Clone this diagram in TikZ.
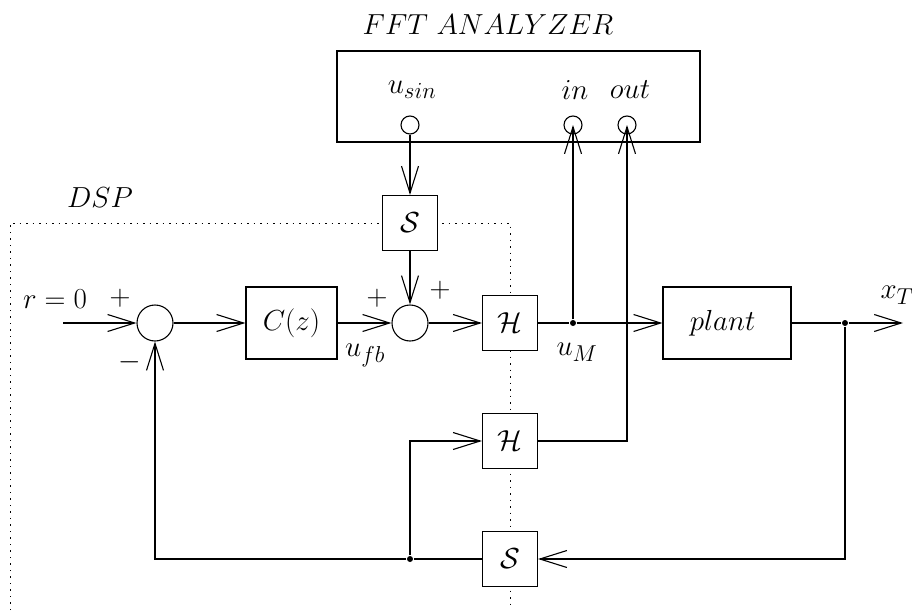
\RequirePackage{fix-cm}
\documentclass[tikz,border=0pt]{standalone}
\usetikzlibrary{arrows.meta}
\DeclareMathSizes{29}{29}{23}{18}
\begin{document}
\begin{tikzpicture}[x=1pt,y=-1pt,line width=1.1pt,
  font=\fontsize{29}{35}\selectfont,
  >={Straight Barb[length=27pt,width=17pt,line width=1.1pt]},
  box/.style={draw,fill=white,inner sep=0pt,minimum width=55pt,minimum height=55pt},
  bigbox/.style={draw,fill=white,inner sep=0pt,minimum height=72pt},
  sumc/.style={draw,circle,inner sep=0pt,minimum size=36pt},
  port/.style={draw,circle,inner sep=0pt,minimum size=18pt},
  lbl/.style={inner sep=0pt},
  dotn/.style={fill,circle,inner sep=0pt,minimum size=6pt},
  dsp/.style={line width=1pt,dash pattern=on 1.5pt off 5pt}]
\useasboundingbox (0,0) rectangle (912,610);
% DSP border
\coordinate (d1) at (10,610);
\coordinate (d2) at (10,223);
\coordinate (d3) at (510,223);
\coordinate (d4) at (510,610);
\draw[dsp] (d1) -- (d2) -- (d3) -- (d4);
\node[lbl] (dsplbl) at (100,198) {$DSP$};
% FFT analyzer
\node[draw,inner sep=0pt,minimum width=363pt,minimum height=91pt] (fft) at (518.5,96.5) {};
\node[lbl] (ffttitle) at (488,25) {$FFT\ ANALYZER$};
\node[port] (usin) at (410,125) {};
\node[port] (inp) at (573,125) {};
\node[port] (outp) at (627,125) {};
\node[lbl] (usinlbl) at (412,90) {$u_{sin}$};
\node[lbl] (inlbl) at (575,90) {$in$};
\node[lbl] (outlbl) at (630,90) {$out$};
% blocks
\node[box] (S1) at (410,223) {$\mathcal{S}$};
\node[sumc] (sum1) at (155,323) {};
\node[bigbox,minimum width=91pt] (cz) at (291.5,323) {$C(z)$};
\node[sumc] (sum2) at (410,323) {};
\node[box] (H1) at (510,323) {$\mathcal{H}$};
\node[bigbox,minimum width=128pt] (plant) at (727,323) {$plant\ $};
\node[box] (H2) at (510,441) {$\mathcal{H}$};
\node[box] (S2) at (510,559) {$\mathcal{S}$};
\node[dotn] (dM) at (573,323) {};
\node[dotn] (dT) at (845,323) {};
\node[dotn] (dF) at (410,559) {};
\coordinate (rin) at (63,323);
\coordinate (xout) at (903,323);
% labels
\node[lbl] (rlbl) at (55,299) {$r=0$};
\node[lbl] (p1) at (120,298) {$+$};
\node[lbl] (m1) at (130,362) {$-$};
\node[lbl] (p2) at (377,298) {$+$};
\node[lbl] (p3) at (440,290) {$+$};
\node[lbl] (ufb) at (365,355) {$u_{fb}$};
\node[lbl] (uM) at (577,352) {$u_M$};
\node[lbl] (xT) at (897,295) {$x_T$};
% connectors
\draw[->] (rin) -- (sum1);
\draw[->] (sum1) -- (cz);
\draw[->] (cz) -- (sum2);
\draw[->] (sum2) -- (H1);
\draw (H1) -- (dM);
\draw[->] (dM) -- (plant);
\draw[->] (dM) -- (inp.center);
\draw (plant) -- (dT);
\draw[->] (dT) -- (xout);
\draw[->] (dT) |- (S2.east);
\draw (S2) -- (dF);
\draw[->] (dF) -| (sum1.south);
\draw[->] (dF) |- (H2.west);
\draw[->] (H2.east) -| (outp.center);
\draw[->] (usin) -- (S1);
\draw[->] (S1) -- (sum2);
\end{tikzpicture}
\end{document}
